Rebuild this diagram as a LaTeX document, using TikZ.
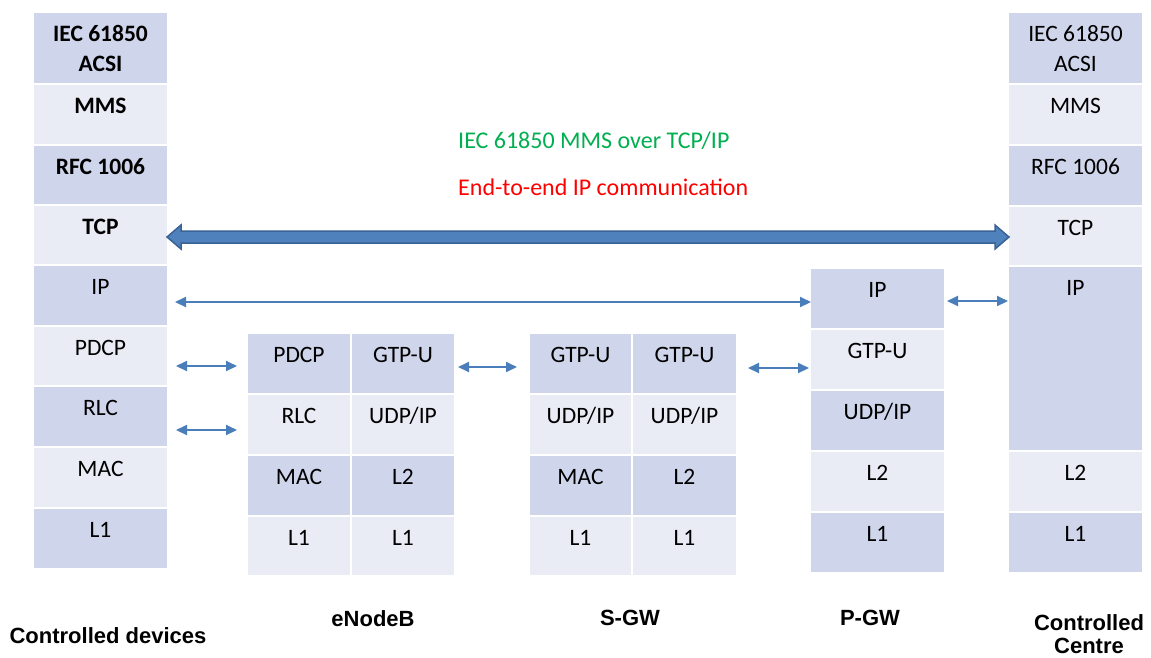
\documentclass[tikz,border=0pt]{standalone}
\usepackage{fontspec}
\setmainfont{Carlito}
\newfontfamily\labfont{Liberation Sans}
\usetikzlibrary{arrows.meta,calc}
\definecolor{dk}{HTML}{CFD5EA}
\definecolor{lt}{HTML}{E9EBF5}
\definecolor{arrcol}{HTML}{4A7EBB}
\definecolor{thickfill}{HTML}{4F81BD}
\definecolor{thickdraw}{HTML}{3A6294}
\definecolor{grn}{HTML}{00B050}
\tikzset{
  cellbox/.style={rectangle, draw=none, inner sep=0pt, outer sep=0pt},
  celltext/.style={anchor=base, inner sep=0pt, font=\fontsize{23.5}{28}\selectfont},
  thinarr/.style={draw=arrcol, line width=2pt, {Triangle[length=11pt,width=10pt]}-{Triangle[length=11pt,width=10pt]}},
  thickarr/.style={fill=thickfill, draw=thickdraw, line width=1.5pt, line join=miter},
  lab/.style={anchor=base, inner sep=0pt, font=\labfont\bfseries\fontsize{22}{26}\selectfont},
  note/.style={anchor=base west, inner sep=0pt, font=\fontsize{24}{29}\selectfont}
}
\newcommand\mkcell[7]{%
  \node[cellbox, fill=#6, minimum width={(#4-#2)*1pt}, minimum height={(#5-#3)*1pt}] (#1) at ({(#2+#4)/2},{(#3+#5)/2}) {};
  \node[celltext] (#1-t) at ([yshift=-28.5pt]#1.north) {#7};}
\begin{document}
\begin{tikzpicture}[x=1pt, y=-1pt]
\useasboundingbox[fill=white] (0,0) rectangle (1151,657);

% Controlled devices stack
\mkcell{LIEC}{34}{13}{167}{83}{dk}{\bfseries IEC 61850}
\node[celltext] (LIEC-t2) at ([yshift=-58.5pt]LIEC.north) {\bfseries ACSI};
\mkcell{LMMS}{34}{85}{167}{144}{lt}{\bfseries MMS}
\mkcell{LRFC}{34}{146}{167}{204}{dk}{\bfseries RFC 1006}
\mkcell{LTCP}{34}{206}{167}{264}{lt}{\bfseries TCP}
\mkcell{LIP}{34}{266}{167}{325}{dk}{IP}
\mkcell{LPDCP}{34}{327}{167}{385}{lt}{PDCP}
\mkcell{LRLC}{34}{387}{167}{446}{dk}{RLC}
\mkcell{LMAC}{34}{448}{167}{507}{lt}{MAC}
\mkcell{LL1}{34}{509}{167}{568}{dk}{L1}

% eNodeB
\mkcell{EA1}{248}{334}{350}{393}{dk}{PDCP}
\mkcell{EB1}{352}{334}{454}{393}{dk}{GTP-U}
\mkcell{EA2}{248}{395}{350}{454}{lt}{RLC}
\mkcell{EB2}{352}{395}{454}{454}{lt}{UDP/IP}
\mkcell{EA3}{248}{456}{350}{515}{dk}{MAC}
\mkcell{EB3}{352}{456}{454}{515}{dk}{L2}
\mkcell{EA4}{248}{517}{350}{575}{lt}{L1}
\mkcell{EB4}{352}{517}{454}{575}{lt}{L1}

% S-GW
\mkcell{SA1}{530}{334}{631}{393}{dk}{GTP-U}
\mkcell{SB1}{633}{334}{736}{393}{dk}{GTP-U}
\mkcell{SA2}{530}{395}{631}{454}{lt}{UDP/IP}
\mkcell{SB2}{633}{395}{736}{454}{lt}{UDP/IP}
\mkcell{SA3}{530}{456}{631}{515}{dk}{MAC}
\mkcell{SB3}{633}{456}{736}{515}{dk}{L2}
\mkcell{SA4}{530}{517}{631}{575}{lt}{L1}
\mkcell{SB4}{633}{517}{736}{575}{lt}{L1}

% P-GW
\mkcell{PIP}{811}{269}{944}{328}{dk}{IP}
\mkcell{PGTP}{811}{330}{944}{389}{lt}{GTP-U}
\mkcell{PUDP}{811}{391}{944}{450}{dk}{UDP/IP}
\mkcell{PL2}{811}{452}{944}{511}{lt}{L2}
\mkcell{PL1}{811}{513}{944}{572}{dk}{L1}

% Controlled Centre stack
\mkcell{RIEC}{1009}{13}{1142}{83}{dk}{IEC 61850}
\node[celltext] (RIEC-t2) at ([yshift=-58.5pt]RIEC.north) {ACSI};
\mkcell{RMMS}{1009}{85}{1142}{144}{lt}{MMS}
\mkcell{RRFC}{1009}{146}{1142}{205}{dk}{RFC 1006}
\mkcell{RTCP}{1009}{207}{1142}{265}{lt}{TCP}
\mkcell{RIP}{1009}{267}{1142}{450}{dk}{IP}
\mkcell{RL2}{1009}{452}{1142}{511}{lt}{L2}
\mkcell{RL1}{1009}{513}{1142}{572}{dk}{L1}

% Texts
\node[note, text=grn] (t1) at (458,148) {IEC 61850 MMS over TCP/IP};
\node[note, text=red] (t2) at (458,195) {End-to-end IP communication};

% Thick end-to-end arrow
\coordinate (ta) at (LTCP.east |- 0,237);
\coordinate (tb) at (RTCP.west |- 0,237);
\draw[thickarr] (ta) -- ++(14,-12) -- ++(0,6) -- ($(tb)+(-14,-6)$) -- ++(0,-6) -- (tb)
  -- ++(-14,12) -- ++(0,-6) -- ($(ta)+(14,6)$) -- ++(0,6) -- cycle;

% Thin arrows
\coordinate (ipa) at (175,302);
\draw[thinarr] (ipa) -- (PIP.west |- ipa);
\coordinate (pra) at (947,301);
\coordinate (prb) at (1008,301);
\draw[thinarr] (pra) -- (prb);
\coordinate (d1a) at (176,366);
\coordinate (d1b) at (237,366);
\draw[thinarr] (d1a) -- (d1b);
\coordinate (d2a) at (176,430);
\coordinate (d2b) at (237,430);
\draw[thinarr] (d2a) -- (d2b);
\coordinate (esa) at (458,367);
\coordinate (esb) at (517,367);
\draw[thinarr] (esa) -- (esb);
\coordinate (spa) at (748,368);
\coordinate (spb) at (809,368);
\draw[thinarr] (spa) -- (spb);

% Bottom labels
\node[lab] (cdev) at (108,643) {Controlled devices};
\node[lab] (enb) at (373,626) {eNodeB};
\node[lab] (sgw) at (630,625) {S-GW};
\node[lab] (pgw) at (870,625) {P-GW};
\node[lab] (cc1) at (1089,630) {Controlled};
\node[lab] (cc2) at (1089,653) {Centre};
\end{tikzpicture}
\end{document}
